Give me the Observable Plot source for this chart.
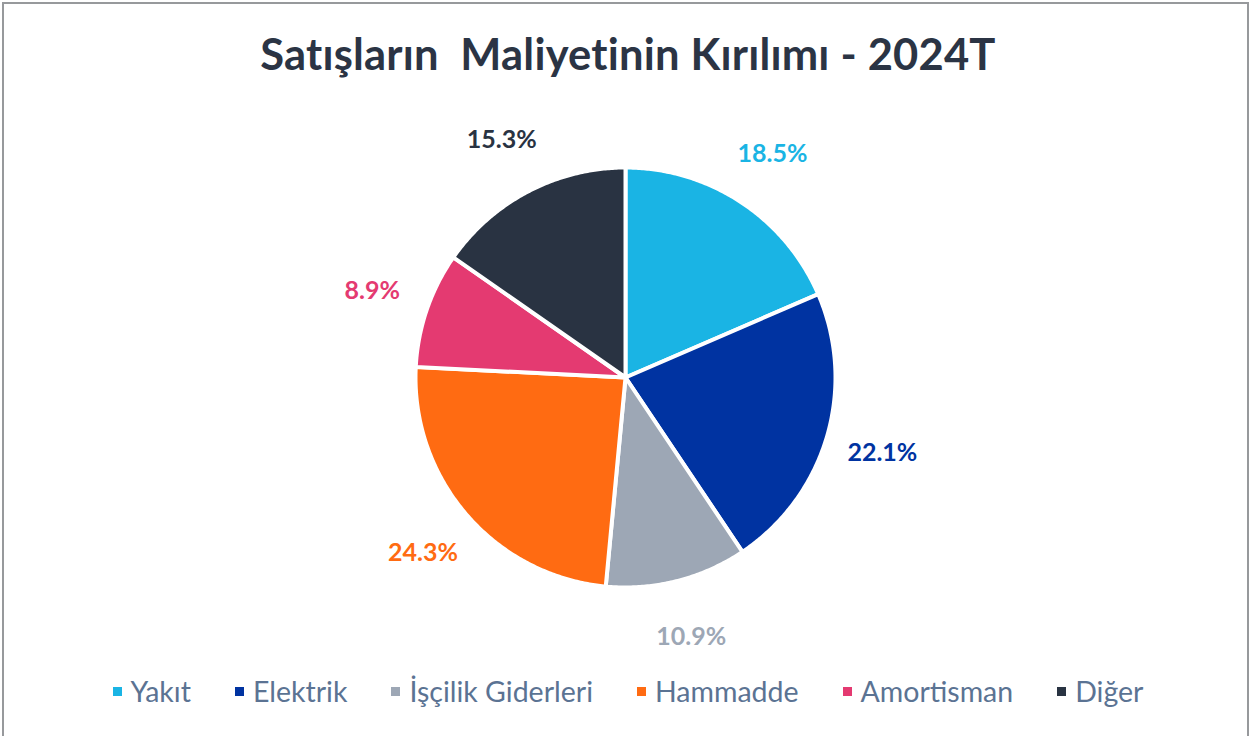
<!DOCTYPE html>
<html><head><meta charset="utf-8">
<script src="https://cdn.jsdelivr.net/npm/d3@7"></script>
<script src="https://cdn.jsdelivr.net/npm/@observablehq/plot@0.6"></script>
<style>
html,body{margin:0;padding:0;background:#fff;overflow:hidden;}
#wrap{position:relative;width:1256px;height:736px;font-family:Lato,"Noto Sans",sans-serif;}
#frame{position:absolute;left:2px;top:2px;width:1243px;height:760px;border:2px solid #97999c;pointer-events:none}
#title{height:100px;box-sizing:border-box;padding-top:27px;text-align:center;font-size:43.5px;font-weight:700;color:#2b3444;line-height:1.2;white-space:pre;letter-spacing:0.2px;}
#chart{height:560px}
#legend{height:76px;box-sizing:border-box;padding-bottom:14px;display:flex;justify-content:center;align-items:center;gap:44px;font-size:28.5px;color:#5b7393;}
.item{display:flex;align-items:center;gap:9px}
.sw{width:9px;height:9px;display:inline-block}
</style>
</head><body>
<div id="wrap">
  <div id="frame"></div>
  <div id="title"></div>
  <div id="chart"></div>
  <div id="legend"></div>
</div>
<script>
const title = "Satışların  Maliyetinin Kırılımı - 2024T";
const categories = ["Yakıt","Elektrik","İşçilik Giderleri","Hammadde","Amortisman","Diğer"];
const shares = [18.5, 22.1, 10.9, 24.3, 8.9, 15.3];
const colors = ["#1ab4e4","#0033a1","#9da7b5","#ff6b12","#e43a71","#293342"];

document.getElementById("title").textContent = title;

const W = 1256, H = 560, R = 210, cx = 625, cy = 277;
const total = d3.sum(shares);
const pie = d3.pie().sort(null).value(d => d.value)(categories.map((name, i) => ({name, value: shares[i]})));

const pts = [];
const labels = [];
for (const s of pie) {
  const name = s.data.name;
  pts.push({name, x: 0, y: 0});
  const steps = Math.max(2, Math.ceil((s.endAngle - s.startAngle) / (Math.PI / 360)));
  for (let k = 0; k <= steps; k++) {
    const a = s.startAngle + (s.endAngle - s.startAngle) * k / steps;
    pts.push({name, x: Math.sin(a), y: Math.cos(a)});
  }
  const m = (s.startAngle + s.endAngle) / 2;
  const lr = 1.275;
  labels.push({name, x: lr * Math.sin(m), y: lr * Math.cos(m), text: (s.data.value / total * 100).toFixed(1) + "%"});
}

const plot = Plot.plot({
  width: W, height: H, margin: 0,
  style: {fontFamily: "Lato, 'Noto Sans', sans-serif", background: "transparent", overflow: "visible"},
  x: {domain: [-cx / R, (W - cx) / R], axis: null},
  y: {domain: [-(H - cy) / R, cy / R], axis: null},
  color: {domain: categories, range: colors},
  marks: [
    Plot.line(pts, {x: "x", y: "y", z: "name", fill: "name", stroke: "white", strokeWidth: 4, curve: "linear-closed", strokeLinejoin: "miter", strokeMiterlimit: 2}),
    Plot.text(labels, {x: "x", y: "y", text: "text", fill: "name", fontSize: 25, fontWeight: "bold"})
  ]
});
document.getElementById("chart").appendChild(plot);

const legend = document.getElementById("legend");
categories.forEach((c, i) => {
  const it = document.createElement("div");
  it.className = "item";
  const sw = document.createElement("span");
  sw.className = "sw";
  sw.style.background = colors[i];
  const t = document.createElement("span");
  t.textContent = c;
  it.appendChild(sw); it.appendChild(t);
  legend.appendChild(it);
});
</script>
</body></html>
